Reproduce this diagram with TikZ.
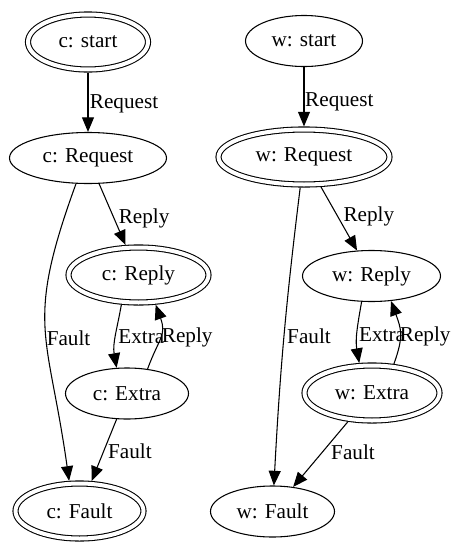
\documentclass[tikz,border=0pt]{standalone}
\usepackage{fontspec}
\setmainfont{Liberation Serif}
\usetikzlibrary{shapes.geometric,arrows.meta}
\begin{document}
\begin{tikzpicture}[x=0.75pt,y=-0.75pt,
  every node/.style={font=\fontsize{15.9}{19}\selectfont},
  st/.style={ellipse, draw, line width=0.8pt, inner sep=0pt, minimum height=38.25pt, outer sep=0.4pt},
  dst/.style={ellipse, draw, line width=0.8pt, double, double distance=3pt, inner sep=0pt, minimum height=41.25pt, outer sep=2.3pt},
  arr/.style={line width=0.8pt, -{Triangle[length=11pt,width=9pt]}},
  lbl/.style={anchor=west, inner sep=0pt}
]
\useasboundingbox (0,0) rectangle (451,543);
% left graph
\node[dst, minimum width=90pt]     (cs) at (88,42)      {c: start};
\node[st,  minimum width=117.75pt] (cq) at (88,158)     {c: Request};
\node[dst, minimum width=105pt]    (cr) at (138.5,275)  {c: Reply};
\node[st,  minimum width=92.25pt]  (ce) at (127,393.5)  {c: Extra};
\node[dst, minimum width=96pt]     (cf) at (79.5,511)   {c: Fault};
% right graph
\node[st,  minimum width=87.75pt]  (ws) at (304,41)     {w: start};
\node[dst, minimum width=128.25pt] (wq) at (304,157)    {w: Request};
\node[st,  minimum width=103.5pt]  (wr) at (371.5,276)  {w: Reply};
\node[dst, minimum width=101.25pt] (we) at (372,393)    {w: Extra};
\node[st,  minimum width=93pt]     (wf) at (272.5,511.5){w: Fault};
% left edges
\draw[arr] (cs) -- node[lbl,pos=0.5,xshift=1pt,yshift=-1pt]{Request} (cq);
\draw[arr] (cq) -- node[lbl,pos=0.55,xshift=3.5pt,yshift=-0.5pt]{Reply} (cr);
\draw[arr] (cq.245) to[out=250,in=98,looseness=1.3] node[lbl,pos=0.52,xshift=0.5pt,yshift=-3pt]{Fault} (cf.109);
\draw[arr] (cr.240) to[out=260,in=100] node[lbl,pos=0.5,xshift=1.5pt]{Extra} (ce.112);
\draw[arr] (ce.50) to[out=70,in=-70,looseness=1.3] node[lbl,pos=0.5,xshift=1pt,yshift=-0.5pt]{Reply} (cr.-60);
\draw[arr] (ce) -- node[lbl,pos=0.52,xshift=3pt]{Fault} (cf);
% right edges
\draw[arr] (ws) -- node[lbl,pos=0.55,xshift=0.5pt,yshift=-1.5pt]{Request} (wq);
\draw[arr] (wq) -- node[lbl,pos=0.445,xshift=4.5pt,yshift=-1pt]{Reply} (wr);
\draw[arr] (wq) to[bend right=2] node[lbl,pos=0.5,xshift=2pt]{Fault} (wf);
\draw[arr] (wr.249) to[out=260,in=100] node[lbl,pos=0.5,xshift=1pt,yshift=-2pt]{Extra} (we.113);
\draw[arr] (we.53) to[out=70,in=-70,looseness=1.2] node[lbl,pos=0.5,xshift=-0.5pt,yshift=-3pt]{Reply} (wr.-52);
\draw[arr] (we) -- node[lbl,pos=0.47,xshift=6.4pt]{Fault} (wf);
\end{tikzpicture}
\end{document}
